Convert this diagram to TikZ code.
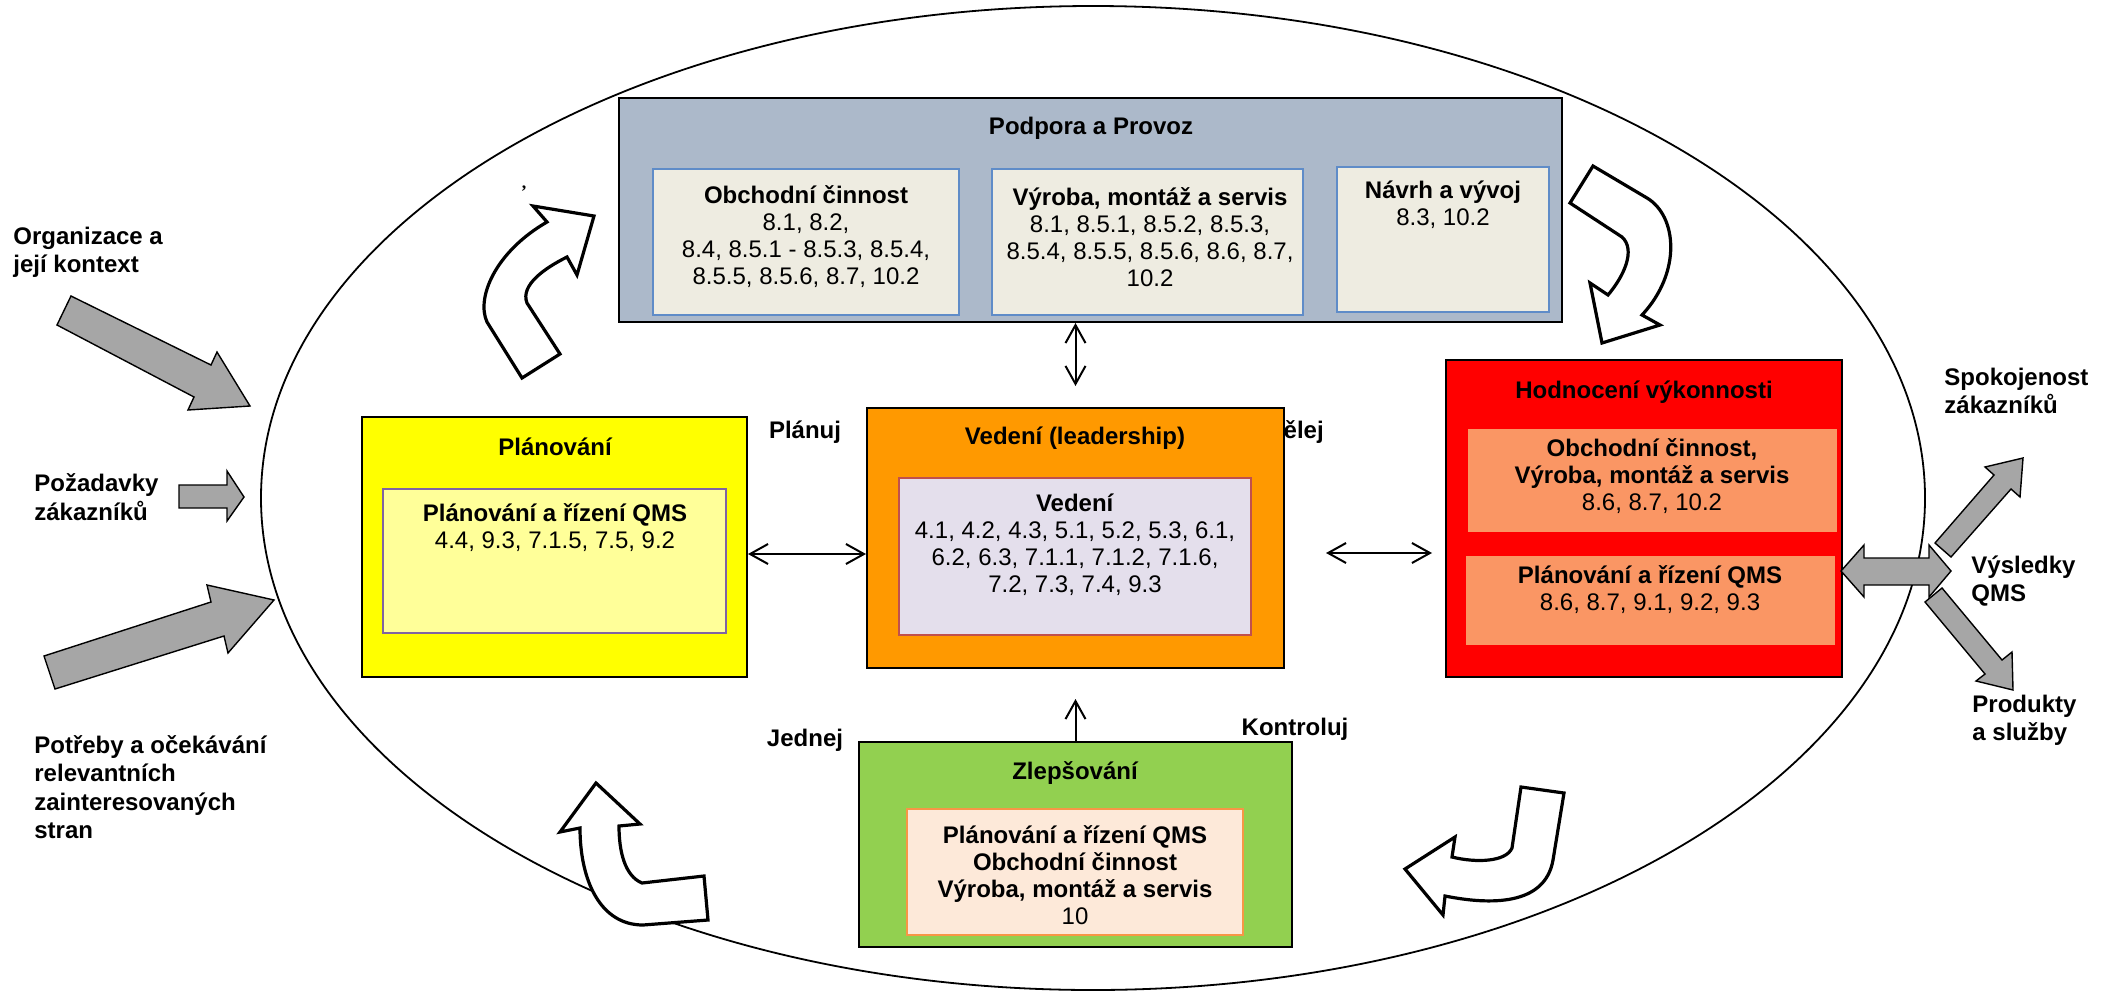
\documentclass[tikz,border=0pt]{standalone}
\usepackage{fontspec}
\setmainfont{Liberation Sans}
\newfontfamily\serifmark{Liberation Serif}
\usetikzlibrary{arrows.meta, positioning, fit, calc}
\definecolor{podfill}{RGB}{172,185,202}
\definecolor{subbeige}{RGB}{238,236,225}
\definecolor{subblue}{RGB}{95,140,200}
\definecolor{planyellow}{RGB}{255,255,0}
\definecolor{planlight}{RGB}{255,255,153}
\definecolor{planedge}{RGB}{128,100,162}
\definecolor{leadorange}{RGB}{255,153,0}
\definecolor{leadlight}{RGB}{228,223,236}
\definecolor{leadedge}{RGB}{192,80,77}
\definecolor{evalred}{RGB}{255,0,0}
\definecolor{evalsalmon}{RGB}{250,150,100}
\definecolor{impgreen}{RGB}{146,208,80}
\definecolor{implight}{RGB}{253,233,217}
\definecolor{impedge}{RGB}{247,150,70}
\definecolor{arrowgray}{RGB}{166,166,166}
\tikzset{
  stagebox/.style={rectangle, draw=black, line width=1pt, inner sep=0pt},
  subbox/.style={rectangle, line width=0.8pt, inner sep=0pt},
  boxtitle/.style={font=\fontsize{12}{13.5}\selectfont\bfseries, inner sep=0pt},
  boxtext/.style={font=\fontsize{12}{13.5}\selectfont, align=center, inner sep=0pt},
  sidetext/.style={font=\fontsize{12}{14.2}\selectfont\bfseries, align=left,
    inner sep=0pt, anchor=west},
  phaselabel/.style={font=\fontsize{12}{13.5}\selectfont\bfseries, inner sep=0pt},
  link/.style={{Straight Barb[length=9pt,width=10pt]}-{Straight Barb[length=9pt,width=10pt]},
    line width=1pt},
  uplink/.style={-{Straight Barb[length=9pt,width=10pt]}, line width=1pt},
  inputarrow/.style={draw=black, line width=0.7pt, fill=arrowgray, line join=miter},
  cyclearrow/.style={draw=black, line width=1.6pt, fill=white, line join=miter},
}

\begin{document}
\begin{tikzpicture}[x=0.5pt, y=-0.5pt]
  \useasboundingbox (0,0) rectangle (2114,991);

  %% -- QMS ellipse ----------------------------------------------
  \draw[line width=0.9pt] (1093,498) ellipse [x radius=832, y radius=492];

  %% -- inputs on the left ---------------------------------------
  \draw[inputarrow] (71,296) -- (211,365) -- (217,352) -- (250,406)
    -- (188,410) -- (194,397) -- (57,325) -- cycle;
  \draw[inputarrow] (179,485) -- (227,485) -- (227,471) -- (244,497)
    -- (227,521) -- (227,508) -- (179,508) -- cycle;
  \draw[inputarrow] (44,656) -- (211,602) -- (207,585) -- (274,600)
    -- (228,653) -- (224,636) -- (55,689) -- cycle;

  \node[sidetext] (organizace) at (13,252) {Organizace a\\její kontext};
  \node[sidetext] (pozadavky) at (34,497) {Požadavky\\zákazníků};
  \node[sidetext] (potreby) at (34,787)
    {Potřeby a očekávání\\relevantních\\zainteresovaných\\stran};

  % label partly hidden by the leadership box
  \node[phaselabel] (delej) at (1295,432) {Dělej};

  %% -- Podpora a Provoz -----------------------------------------
  \node[stagebox, fill=podfill, fit={(619,98) (1562,322)}] (podpora) {};
  \node[boxtitle] (podtitle) at (1091,128) {Podpora a Provoz};
  \node[subbox, draw=subblue, fill=subbeige, fit={(653,169) (959,315)}] (obchod) {};
  \node[boxtext] (obchodtext) at (806,237)
    {\textbf{Obchodní činnost}\\8.1, 8.2,\\8.4, 8.5.1 - 8.5.3, 8.5.4,\\8.5.5, 8.5.6, 8.7, 10.2};
  \node[subbox, draw=subblue, fill=subbeige, fit={(992,169) (1303,315)}] (vyroba) {};
  \node[boxtext] (vyrobatext) at (1150,237)
    {\textbf{Výroba, montáž a servis}\\8.1, 8.5.1, 8.5.2, 8.5.3,\\8.5.4, 8.5.5, 8.5.6, 8.6, 8.7,\\10.2};
  \node[subbox, draw=subblue, fill=subbeige, fit={(1337,167) (1549,312)}] (navrh) {};
  \node[boxtext] (navrhtext) at (1443,205) {\textbf{Návrh a vývoj}\\8.3, 10.2};

  %% -- Plánování ------------------------------------------------
  \node[stagebox, fill=planyellow, fit={(362,417) (747,677)}] (planovani) {};
  \node[boxtitle] (plantitle) at (555,447) {Plánování};
  \node[subbox, draw=planedge, fill=planlight, fit={(383,489) (726,633)}] (planrizeni) {};
  \node[boxtext] (plantext) at (555,528)
    {\textbf{Plánování a řízení QMS}\\4.4, 9.3, 7.1.5, 7.5, 9.2};

  %% -- Vedení ---------------------------------------------------
  \node[stagebox, fill=leadorange, fit={(867,408) (1284,668)}] (vedeni) {};
  \node[boxtitle] (leadtitle) at (1075,438) {Vedení (leadership)};
  \node[subbox, draw=leadedge, fill=leadlight, fit={(899,478) (1251,635)}] (leadinner) {};
  \node[boxtext] (leadtext) at (1075,545)
    {\textbf{Vedení}\\4.1, 4.2, 4.3, 5.1, 5.2, 5.3, 6.1,\\6.2, 6.3, 7.1.1, 7.1.2, 7.1.6,\\7.2, 7.3, 7.4, 9.3};

  %% -- Hodnocení výkonnosti -------------------------------------
  \node[stagebox, fill=evalred, fit={(1446,360) (1842,677)}] (hodnoceni) {};
  \node[boxtitle] (evaltitle) at (1644,392) {Hodnocení výkonnosti};
  \node[subbox, fill=evalsalmon, fit={(1468,429) (1837,532)}] (evalobchod) {};
  \node[boxtext] (evalobchodtext) at (1652,476)
    {\textbf{Obchodní činnost,}\\\textbf{Výroba, montáž a servis}\\8.6, 8.7, 10.2};
  \node[subbox, fill=evalsalmon, fit={(1466,556) (1835,645)}] (evalplan) {};
  \node[boxtext] (evalplantext) at (1650,590)
    {\textbf{Plánování a řízení QMS}\\8.6, 8.7, 9.1, 9.2, 9.3};

  %% -- Zlepšování -----------------------------------------------
  \node[stagebox, fill=impgreen, fit={(859,742) (1292,947)}] (zlepsovani) {};
  \node[boxtitle] (imptitle) at (1075,773) {Zlepšování};
  \node[subbox, draw=impedge, fill=implight, fit={(907,809) (1243,935)}] (impinner) {};
  \node[boxtext, font=\fontsize{12}{13.5}\selectfont\bfseries] (imptext) at (1075,875)
    {Plánování a řízení QMS\\Obchodní činnost\\Výroba, montáž a servis\\\mdseries 10};

  %% -- PDCA labels ----------------------------------------------
  \node[phaselabel] (planuj) at (805,432) {Plánuj};
  \node[phaselabel] (jednej) at (805,740) {Jednej};
  \node[phaselabel] (kontroluj) at (1295,729) {Kontroluj};
  \node[font=\serifmark\bfseries\fontsize{9}{9}\selectfont, inner sep=0pt] (mark) at (524,189) {,};

  %% -- links between stages -------------------------------------
  \draw[link] ($(planovani.east)+(0,7)$) -- ($(planovani.east -| vedeni.west)+(0,7)$);
  \draw[link, shorten <=20.5pt, shorten >=6.5pt]
    ($(vedeni.east)+(0,15)$) -- ($(vedeni.east -| hodnoceni.west)+(0,15)$);
  \draw[link, shorten >=10.5pt] (vedeni.north |- podpora.south) -- (vedeni.north);
  \draw[uplink, shorten >=15pt] (zlepsovani.north) -- (vedeni.south);

  %% -- cycle arrows ---------------------------------------------
  \draw[cyclearrow] (522,378) -- (487,322) .. controls (476,298) and (495,252) .. (547,222)
    -- (533,206) -- (594,216) -- (577,275) -- (567,257)
    .. controls (545,268) and (520,285) .. (527,303) -- (560,354) -- cycle;
  \draw[cyclearrow] (1593,166) -- (1647,198) .. controls (1677,216) and (1682,272) .. (1642,315)
    -- (1660,325) -- (1602,343) -- (1590,283) -- (1608,295)
    .. controls (1624,276) and (1636,250) .. (1622,237) -- (1570,203) -- cycle;
  \draw[cyclearrow] (596,783) -- (640,824) -- (619,826)
    .. controls (619,852) and (625,876) .. (642,883) -- (704,876) -- (708,920) -- (643,925)
    .. controls (600,925) and (580,880) .. (580,828) -- (560,832) -- cycle;
  \draw[cyclearrow] (1405,869) -- (1455,837) -- (1452,857)
    .. controls (1476,863) and (1506,862) .. (1512,848) -- (1521,787) -- (1564,793)
    -- (1553,860) .. controls (1545,906) and (1490,905) .. (1445,896) -- (1443,915) -- cycle;

  %% -- outputs on the right -------------------------------------
  \draw[inputarrow] (1841,571) -- (1864,545) -- (1864,558) -- (1929,558) -- (1929,545)
    -- (1951,571) -- (1929,597) -- (1929,585) -- (1864,585) -- (1864,597) -- cycle;
  \draw[inputarrow] (1935,543) -- (1994,475) -- (1985,467) -- (2023,458)
    -- (2020,497) -- (2011,489) -- (1951,557) -- cycle;
  \draw[inputarrow] (1925,602) -- (1985,674) -- (1976,681) -- (2013,690)
    -- (2012,652) -- (2002,660) -- (1942,588) -- cycle;

  \node[sidetext] (spokojenost) at (1944,391) {Spokojenost\\zákazníků};
  \node[sidetext] (vysledky) at (1971,581) {Výsledky\\QMS};
  \node[sidetext] (produkty) at (1972,720) {Produkty\\a služby};

\end{tikzpicture}
\end{document}
